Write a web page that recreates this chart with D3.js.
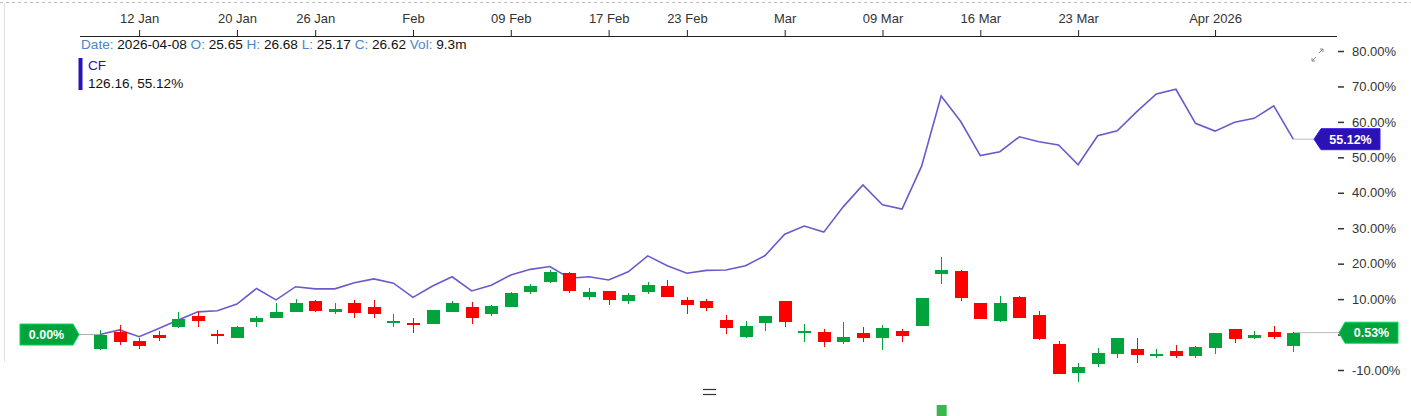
<!DOCTYPE html>
<html>
<head>
<meta charset="utf-8">
<script src="https://cdn.jsdelivr.net/npm/d3@7"></script>
<style>
  body { margin: 0; background: #fff; }
  svg { display: block; font-family: Arial, "Liberation Sans", sans-serif; }
</style>
</head>
<body>
<div id="chart"></div>
<script>
// Trading days (x categories)
const dates = [
  "2026-01-08","2026-01-09","2026-01-12","2026-01-13","2026-01-14","2026-01-15","2026-01-16",
  "2026-01-20","2026-01-21","2026-01-22","2026-01-23","2026-01-26","2026-01-27","2026-01-28",
  "2026-01-29","2026-01-30","2026-02-02","2026-02-03","2026-02-04","2026-02-05","2026-02-06",
  "2026-02-09","2026-02-10","2026-02-11","2026-02-12","2026-02-13","2026-02-17","2026-02-18",
  "2026-02-19","2026-02-20","2026-02-23","2026-02-24","2026-02-25","2026-02-26","2026-02-27",
  "2026-03-02","2026-03-03","2026-03-04","2026-03-05","2026-03-06","2026-03-09","2026-03-10",
  "2026-03-11","2026-03-12","2026-03-13","2026-03-16","2026-03-17","2026-03-18","2026-03-19",
  "2026-03-20","2026-03-23","2026-03-24","2026-03-25","2026-03-26","2026-03-27","2026-03-30",
  "2026-03-31","2026-04-01","2026-04-02","2026-04-06","2026-04-07","2026-04-08"
];

// Top axis ticks
const tickDates = ["2026-01-12","2026-01-20","2026-01-26","2026-02-02","2026-02-09","2026-02-17",
  "2026-02-23","2026-03-02","2026-03-09","2026-03-16","2026-03-23","2026-04-01"];
const tickLabels = ["12 Jan","20 Jan","26 Jan","Feb","09 Feb","17 Feb","23 Feb","Mar","09 Mar","16 Mar","23 Mar","Apr 2026"];

// Right axis ticks (%)
const yTicks = [-10, 0, 10, 20, 30, 40, 50, 60, 70, 80];

// Candles, % change (open, high, low, close)
const opens  = [-4.0, 0.8,-1.8,-0.1, 2.2, 5.2, 0.2,-1.0, 3.6, 4.6, 6.5, 9.5, 6.4, 8.8, 7.7, 3.6, 3.2, 3.0, 6.5, 7.7,
  5.8, 7.7,12.0,14.8,17.3,10.7,12.3, 9.6,12.0,13.7, 9.8, 9.5, 4.1,-0.6, 3.4, 9.5, 0.9, 0.6,-2.0, 0.4,
  -1.0, 1.1, 2.5,17.0,17.9, 8.8, 3.9,10.5, 5.5,-2.6,-10.8,-8.4,-5.6,-4.1,-5.8,-4.5,-6.0,-3.9, 1.7,-1.0,
  0.7,-3.13];
const highs  = [ 1.3, 2.7,-1.0, 1.0, 6.3, 6.3, 1.3, 2.4, 5.3, 8.8,10.0, 9.8, 9.0, 9.8, 9.8, 5.8, 4.6, 6.9, 9.5, 9.1,
  8.4,12.1,14.2,18.2,17.6,13.0,12.3,11.8,14.8,15.4,10.5,10.0, 5.5, 3.8, 5.2, 9.5, 3.0, 1.6, 3.5, 2.2,
  2.7, 1.6,10.4,21.8,18.2, 8.8,10.9,10.9, 6.7,-1.8,-8.1,-3.9,-1.0,-1.0,-4.1,-2.9,-3.2, 0.4, 1.7, 1.0,
  2.4, 0.76];
const lows   = [-4.4,-2.9,-4.1,-1.7, 1.8, 2.2,-2.7,-1.0, 2.2, 4.6, 6.5, 6.5, 5.8, 4.6, 4.6, 2.2, 0.5, 3.0, 6.3, 3.0,
  5.2, 7.7,11.4,14.5,11.7, 9.8, 8.4, 8.6,11.4,10.7, 5.8, 6.7, 0.2,-1.0, 1.1, 2.2,-2.0,-3.4,-2.7,-2.0,
  -4.3,-2.0, 2.5,14.3, 9.6, 4.3, 3.6, 4.6,-1.5,-11.2,-13.3,-9.1,-6.7,-8.1,-6.7,-6.7,-6.7,-5.5,-2.5,-1.3,
  -1.3,-4.95];
const closes = [ 0.0,-2.0,-3.1,-1.0, 4.4, 3.9,-0.4, 2.1, 4.6, 6.3, 8.8, 6.7, 7.3, 6.0, 5.8, 3.9, 2.7, 6.9, 8.8, 4.8,
  8.1,11.7,13.7,17.7,12.4,12.0, 9.8,11.3,14.1,10.7, 8.2, 7.4, 1.8, 2.4, 5.2, 3.6, 1.1,-2.0,-0.8,-1.0,
  1.8,-0.3,10.2,18.2,10.2, 4.3, 8.8, 4.6,-1.3,-11.2,-9.2,-5.1,-1.0,-5.9,-5.5,-6.0,-3.6, 0.4,-1.3,-0.1,
  -0.6, 0.53];

// Comparison series CF, % change
const cfValues = [0, 1.3,-0.6, 1.7, 4.1, 6.4, 6.7, 8.6,13.0, 9.8,13.5,12.9,12.9,14.6,15.7,14.5,10.5,13.7,16.3,12.3,
  13.9,16.8,18.4,19.2,15.9,16.3,15.4,17.7,22.2,19.4,17.3,18.1,18.2,19.4,22.3,28.3,30.6,28.9,36.1,42.2,
  36.6,35.4,47.5,67.3,60.1,50.5,51.6,55.8,54.4,53.5,47.9,56.1,57.5,62.9,67.9,69.2,59.6,57.4,59.9,61.0,
  64.5,55.12];
const cfLastPrice = 126.16;

const W = 1411, H = 416;
const GREEN = "#00a33c", RED = "#ff0000", CFLINE = "#6a5acd", CFDARK = "#2b12b5";

const svg = d3.select("#chart").append("svg")
    .attr("width", W)
    .attr("height", H);

const x = d3.scalePoint().domain(dates).range([100, 1293.3]);
const y = d3.scaleLinear().domain([-10, 80]).range([370, 51]);

// frame bits
svg.append("line")
    .attr("x1", 0).attr("x2", W).attr("y1", 2.5).attr("y2", 2.5)
    .attr("stroke", "#bbb").attr("stroke-dasharray", "3,3");
svg.append("line")
    .attr("x1", 4.5).attr("x2", 4.5).attr("y1", 3).attr("y2", 362)
    .attr("stroke", "#e2e2e2");

// top axis
const topAxis = svg.append("g")
    .attr("transform", "translate(0,36)")
    .call(d3.axisTop(x).tickValues(tickDates).tickSize(6).tickPadding(7)
        .tickFormat((d, i) => tickLabels[i]));
topAxis.select(".domain").remove();
topAxis.selectAll("text").attr("font-size", 13).attr("fill", "#333").attr("font-family", "Arial, 'Liberation Sans', sans-serif");
topAxis.selectAll("line").attr("stroke", "#222");
svg.append("line")
    .attr("x1", 80).attr("x2", 1337).attr("y1", 36.5).attr("y2", 36.5)
    .attr("stroke", "#222");

// right axis
const rightAxis = svg.append("g")
    .attr("transform", "translate(1338,0)")
    .call(d3.axisRight(y).tickValues(yTicks).tickSize(6).tickPadding(8)
        .tickFormat(d => d.toFixed(2) + "%"));
rightAxis.select(".domain").remove();
rightAxis.selectAll("text").attr("font-size", 13).attr("fill", "#333").attr("font-family", "Arial, 'Liberation Sans', sans-serif");
rightAxis.selectAll("line").attr("stroke", "#333").attr("stroke-width", 1.5);

// header
const head = svg.append("text").attr("x", 81).attr("y", 48.5).attr("font-size", 13.6);
const headParts = [["Date: ", "2026-04-08 "], ["O: ", "25.65 "], ["H: ", "26.68 "], ["L: ", "25.17 "], ["C: ", "26.62 "], ["Vol: ", "9.3m"]];
headParts.forEach(p => {
    head.append("tspan").attr("fill", "#4a86c8").text(p[0]);
    head.append("tspan").attr("fill", "#111").text(p[1]);
});
svg.append("rect").attr("x", 78.5).attr("y", 58).attr("width", 4).attr("height", 32).attr("fill", CFDARK);
svg.append("text").attr("x", 88).attr("y", 69.5).attr("font-size", 13.6).attr("fill", CFDARK).text("CF");
svg.append("text").attr("x", 88).attr("y", 87.5).attr("font-size", 13.6).attr("fill", "#111")
    .text(cfLastPrice.toFixed(2) + ", " + cfValues[cfValues.length - 1].toFixed(2) + "%");

// expand icon
const ic = svg.append("g").attr("stroke", "#888").attr("stroke-width", 1).attr("fill", "none");
ic.append("line").attr("x1", 1312).attr("y1", 61).attr("x2", 1316).attr("y2", 57);
ic.append("path").attr("d", "M1312,58 L1312,61 L1315,61");
ic.append("line").attr("x1", 1319).attr("y1", 53).attr("x2", 1323).attr("y2", 49);
ic.append("path").attr("d", "M1320,49 L1323,49 L1323,52");

// connector lines to price tags
const last = dates.length - 1;
svg.append("line")
    .attr("x1", 79).attr("x2", x(dates[0])).attr("y1", y(0)).attr("y2", y(0))
    .attr("stroke", "#aaa");
svg.append("line")
    .attr("x1", x(dates[last])).attr("x2", 1314).attr("y1", y(cfValues[last])).attr("y2", y(cfValues[last]))
    .attr("stroke", "#bbb");
svg.append("line")
    .attr("x1", x(dates[last])).attr("x2", 1339).attr("y1", y(closes[last])).attr("y2", y(closes[last]))
    .attr("stroke", "#bbb");

// CF line
svg.append("path")
    .datum(cfValues)
    .attr("fill", "none")
    .attr("stroke", CFLINE)
    .attr("stroke-width", 1.6)
    .attr("d", d3.line().x((d, i) => x(dates[i])).y(d => y(d)));

// candles
const candles = dates.map((d, i) => ({ date: d, o: opens[i], h: highs[i], l: lows[i], c: closes[i] }));
const cg = svg.append("g").attr("shape-rendering", "crispEdges");
const cs = cg.selectAll("g").data(candles).join("g");
cs.append("line")
    .attr("x1", d => Math.round(x(d.date)) + 0.5)
    .attr("x2", d => Math.round(x(d.date)) + 0.5)
    .attr("y1", d => y(d.h))
    .attr("y2", d => y(d.l))
    .attr("stroke", d => d.c >= d.o ? GREEN : RED)
    .attr("stroke-width", 1.3);
cs.append("rect")
    .attr("x", d => Math.round(x(d.date)) - 6)
    .attr("width", 13)
    .attr("y", d => y(Math.max(d.o, d.c)))
    .attr("height", d => Math.max(2, Math.abs(y(d.o) - y(d.c))))
    .attr("fill", d => d.c >= d.o ? GREEN : RED);

// small markers below the plot
svg.append("rect")
    .attr("x", x(dates[43]) - 4.5).attr("y", 405).attr("width", 10).attr("height", 12)
    .attr("fill", "#3cb550");
const eq = svg.append("g").attr("stroke", "#333").attr("stroke-width", 1.2);
eq.append("line").attr("x1", 703).attr("x2", 716).attr("y1", 389.5).attr("y2", 389.5);
eq.append("line").attr("x1", 703).attr("x2", 716).attr("y1", 394.5).attr("y2", 394.5);

// price tags
function tag(tipX, cy, left, right, fill, label, pointLeft) {
    const h = 10.5;
    const pts = pointLeft
        ? [[tipX, cy], [left, cy - h], [right, cy - h], [right, cy + h], [left, cy + h]]
        : [[left, cy - h], [right, cy - h], [tipX, cy], [right, cy + h], [left, cy + h]];
    svg.append("polygon")
        .attr("points", pts.map(p => p.join(",")).join(" "))
        .attr("fill", fill)
        .attr("stroke", d3.color(fill).brighter(0.8))
        .attr("stroke-width", 1);
    svg.append("text")
        .attr("x", (left + right) / 2)
        .attr("y", cy + 4.5)
        .attr("text-anchor", "middle")
        .attr("font-size", 12.5)
        .attr("font-weight", "bold")
        .attr("fill", "#fff")
        .text(label);
}
tag(79, y(0), 20, 73, GREEN, "0.00%", false);
tag(1314, y(cfValues[last]), 1321, 1380, CFDARK, cfValues[last].toFixed(2) + "%", true);
tag(1339, y(closes[last]), 1345, 1398, GREEN, closes[last].toFixed(2) + "%", true);
</script>
</body>
</html>
